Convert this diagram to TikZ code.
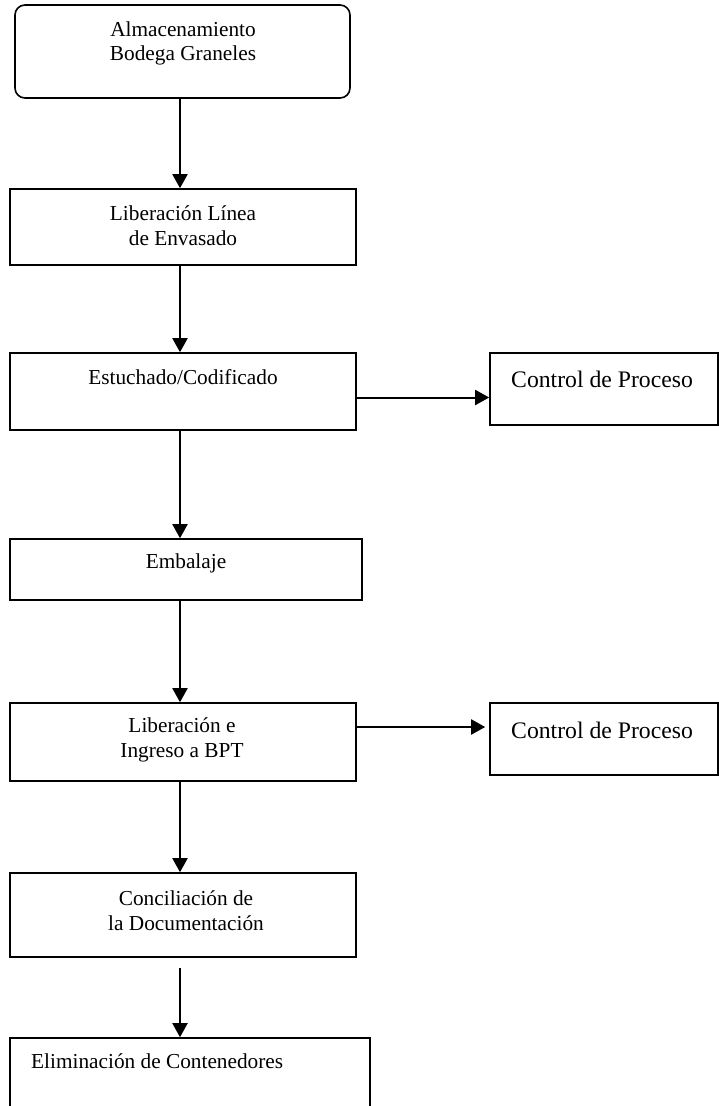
\documentclass[tikz,border=0pt]{standalone}
\usepackage{fontspec}
\setmainfont{Liberation Serif}
\usetikzlibrary{arrows.meta}

\begin{document}
\begin{tikzpicture}[x=1pt,y=-1pt,
        caja/.style={draw,line width=1.6pt,inner sep=0pt},
        texto/.style={align=center,inner sep=0pt,font=\fontsize{21.3}{24.5}\selectfont},
        control/.style={inner sep=0pt,anchor=west,font=\fontsize{23.7}{27}\selectfont},
        flecha/.style={line width=2pt,-{Triangle[length=14pt,width=15pt]}}]
        \clip (0,0) rectangle (719,1106);

        % cajas
        \node[caja,rounded corners=10pt,minimum width=335pt,minimum height=93pt] (alm) at (182.5,51.5){};
        \node[caja,minimum width=346pt,minimum height=76pt] (lib) at (183,227){};
        \node[caja,minimum width=346pt,minimum height=77pt] (est) at (183,391.5){};
        \node[caja,minimum width=228pt,minimum height=72pt] (ctrla) at (604,389){};
        \node[caja,minimum width=352pt,minimum height=61pt] (emb) at (186,569.5){};
        \node[caja,minimum width=346pt,minimum height=78pt] (ing) at (183,742){};
        \node[caja,minimum width=228pt,minimum height=72pt] (ctrlb) at (604,739){};
        \node[caja,minimum width=346pt,minimum height=84pt] (con) at (183,915){};
        \node[caja,minimum width=360pt,minimum height=92pt] (eli) at (190,1084){};

        % textos
        \node[texto] (alm-t) at (183,43.5){Almacenamiento\\Bodega Graneles};
        \node[texto] (lib-t) at (183,225.5){Liberación Línea\\de Envasado};
        \node[texto] (est-t) at (183,377){Estuchado/Codificado};
        \node[control] (ctrla-t) at (511,379){Control de Proceso};
        \node[texto] (emb-t) at (186,563){Embalaje};
        \node[texto] (ing-t) at (182,740){Liberación e\\Ingreso a BPT};
        \node[control] (ctrlb-t) at (511,730){Control de Proceso};
        \node[texto] (con-t) at (186,910.5){Conciliación de\\la Documentación};
        \node[texto,anchor=west] (eli-t) at (31,1061){Eliminación de Contenedores};

        % flechas
        \coordinate (eje) at (180,0);
        \foreach \a/\b in {alm/lib,lib/est,est/emb,emb/ing,ing/con}
            {
                \draw[flecha] (\a.south -| eje) -- (\b.north -| eje);
            }
        \draw[flecha,shorten <=10pt] (con.south -| eje) -- (eli.north -| eje);

        \draw[flecha] ([yshift=-6pt]est.east) -- ([yshift=-6pt]est.east -| ctrla.west);
        \draw[flecha,shorten >=4pt] ([yshift=15pt]ing.east) -- ([yshift=15pt]ing.east -| ctrlb.west);
    \end{tikzpicture}
\end{document}
